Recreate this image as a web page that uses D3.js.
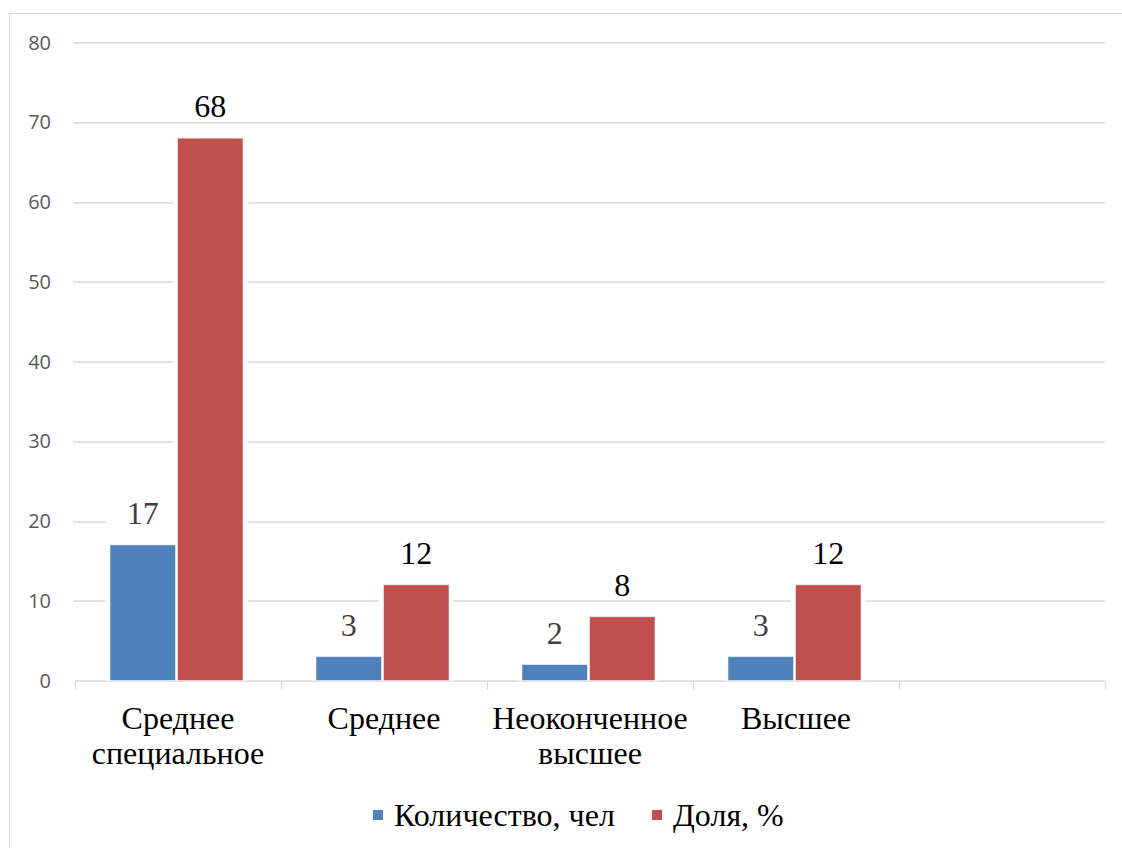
<!DOCTYPE html>
<html>
<head>
<meta charset="utf-8">
<script src="https://cdn.jsdelivr.net/npm/d3@7"></script>
<style>
  body { margin: 0; background: #fff; }
  svg { display: block; }
  .serif { font-family: "Liberation Serif", "DejaVu Serif", serif; }
  .sans { font-family: "Open Sans", "Noto Sans", sans-serif; }
</style>
</head>
<body>
<svg width="1122" height="848"></svg>
<script>
const categories = [
  ["Среднее", "специальное"],
  ["Среднее"],
  ["Неоконченное", "высшее"],
  ["Высшее"],
  [""]
];
const seriesNames = ["Количество, чел", "Доля, %"];
const countValues = [17, 3, 2, 3, null];
const shareValues = [68, 12, 8, 12, null];
const yTicks = [0, 10, 20, 30, 40, 50, 60, 70, 80];
const colors = ["#4f81bd", "#c0504d"];
const labelColors = ["#404040", "#000000"];

const svg = d3.select("svg");
const margin = { top: 42.5, right: 17, bottom: 167.5, left: 75 };
const width = 1122 - margin.left - margin.right;
const height = 848 - margin.top - margin.bottom;

// chart border
svg.append("rect")
  .attr("x", 9.5).attr("y", 13.5)
  .attr("width", 1130).attr("height", 850)
  .attr("fill", "none").attr("stroke", "#d9d9d9");

const g = svg.append("g")
  .attr("transform", "translate(" + margin.left + "," + margin.top + ")");

const x = d3.scaleBand().domain(d3.range(categories.length)).range([0, width]);
const xs = d3.scaleBand().domain([0, 1]).range([35, 35 + 133]).paddingInner(0.03);
const y = d3.scaleLinear().domain([0, 80]).range([height, 0]);

// gridlines
g.append("g")
  .selectAll("line")
  .data(yTicks.slice(1))
  .enter().append("line")
  .attr("x1", -2).attr("x2", width)
  .attr("y1", d => Math.round(y(d)) + 0.5).attr("y2", d => Math.round(y(d)) + 0.5)
  .attr("stroke", "#d9d9d9").attr("stroke-width", 1.3);

// y labels
g.append("g")
  .selectAll("text")
  .data(yTicks)
  .enter().append("text")
  .attr("class", "sans")
  .attr("x", -24).attr("y", d => y(d))
  .attr("dy", "0.36em")
  .attr("text-anchor", "end")
  .attr("font-size", 20)
  .attr("fill", "#595959")
  .text(d => d);

// x axis
const xAxis = g.append("g").attr("transform", "translate(0," + (Math.round(height) + 0.5) + ")");
xAxis.append("line")
  .attr("x1", 0).attr("x2", width)
  .attr("stroke", "#d9d9d9").attr("stroke-width", 1.3);
xAxis.selectAll(".tick")
  .data(d3.range(categories.length + 1))
  .enter().append("line")
  .attr("x1", d => Math.round(d * x.bandwidth()) + 0.5)
  .attr("x2", d => Math.round(d * x.bandwidth()) + 0.5)
  .attr("y1", 0).attr("y2", 9)
  .attr("stroke", "#d9d9d9").attr("stroke-width", 1.3);

xAxis.selectAll(".cat")
  .data(categories)
  .enter().append("text")
  .attr("class", "serif")
  .attr("text-anchor", "middle")
  .attr("font-size", 32)
  .attr("fill", "#000")
  .attr("transform", (d, i) => "translate(" + (x(i) + x.bandwidth() / 2) + ",0)")
  .each(function(d) {
    d3.select(this).selectAll("tspan")
      .data(d)
      .enter().append("tspan")
      .attr("x", 0)
      .attr("y", (t, j) => 48 + j * 35)
      .text(t => t);
  });

const series = [countValues, shareValues];
const rows = series.map(vals => vals.map((v, i) => ({ i, v })).filter(d => d.v != null));

// label backgrounds (under bars, over gridlines)
rows.forEach((data, s) => {
  g.append("g").selectAll("rect")
    .data(data)
    .enter().append("rect")
    .attr("x", d => x(d.i) + xs(s) - 4)
    .attr("y", d => y(d.v) - 41)
    .attr("width", xs.bandwidth() + 8)
    .attr("height", 21)
    .attr("fill", "#fff");
});

// white halo behind bars
rows.forEach((data, s) => {
  g.append("g").selectAll("rect")
    .data(data)
    .enter().append("rect")
    .attr("x", d => x(d.i) + xs(s) - 4.5)
    .attr("y", d => y(d.v) - 4.5)
    .attr("width", xs.bandwidth() + 9)
    .attr("height", d => height - y(d.v) + 4.5)
    .attr("fill", "#fff");
});

rows.forEach((data, s) => {
  g.append("g").selectAll("rect")
    .data(data)
    .enter().append("rect")
    .attr("x", d => x(d.i) + xs(s))
    .attr("y", d => y(d.v))
    .attr("width", xs.bandwidth())
    .attr("height", d => height - y(d.v))
    .attr("fill", colors[s])
    .attr("stroke", "#ffffff").attr("stroke-opacity", 0.5).attr("stroke-width", 1);
});

rows.forEach((data, s) => {
  g.append("g").selectAll("text")
    .data(data)
    .enter().append("text")
    .attr("class", "serif")
    .attr("x", d => x(d.i) + xs(s) + xs.bandwidth() / 2)
    .attr("y", d => y(d.v) - 21)
    .attr("text-anchor", "middle")
    .attr("font-size", 32)
    .attr("fill", labelColors[s])
    .text(d => d.v);
});

// legend
const legend = svg.append("g");
const legendX = [373, 652];
seriesNames.forEach((name, s) => {
  legend.append("rect")
    .attr("x", legendX[s]).attr("y", 810)
    .attr("width", 10).attr("height", 10)
    .attr("fill", colors[s]);
  legend.append("text")
    .attr("class", "serif")
    .attr("x", legendX[s] + 21).attr("y", 826)
    .attr("font-size", 32)
    .attr("fill", "#000")
    .text(name);
});
</script>
</body>
</html>
